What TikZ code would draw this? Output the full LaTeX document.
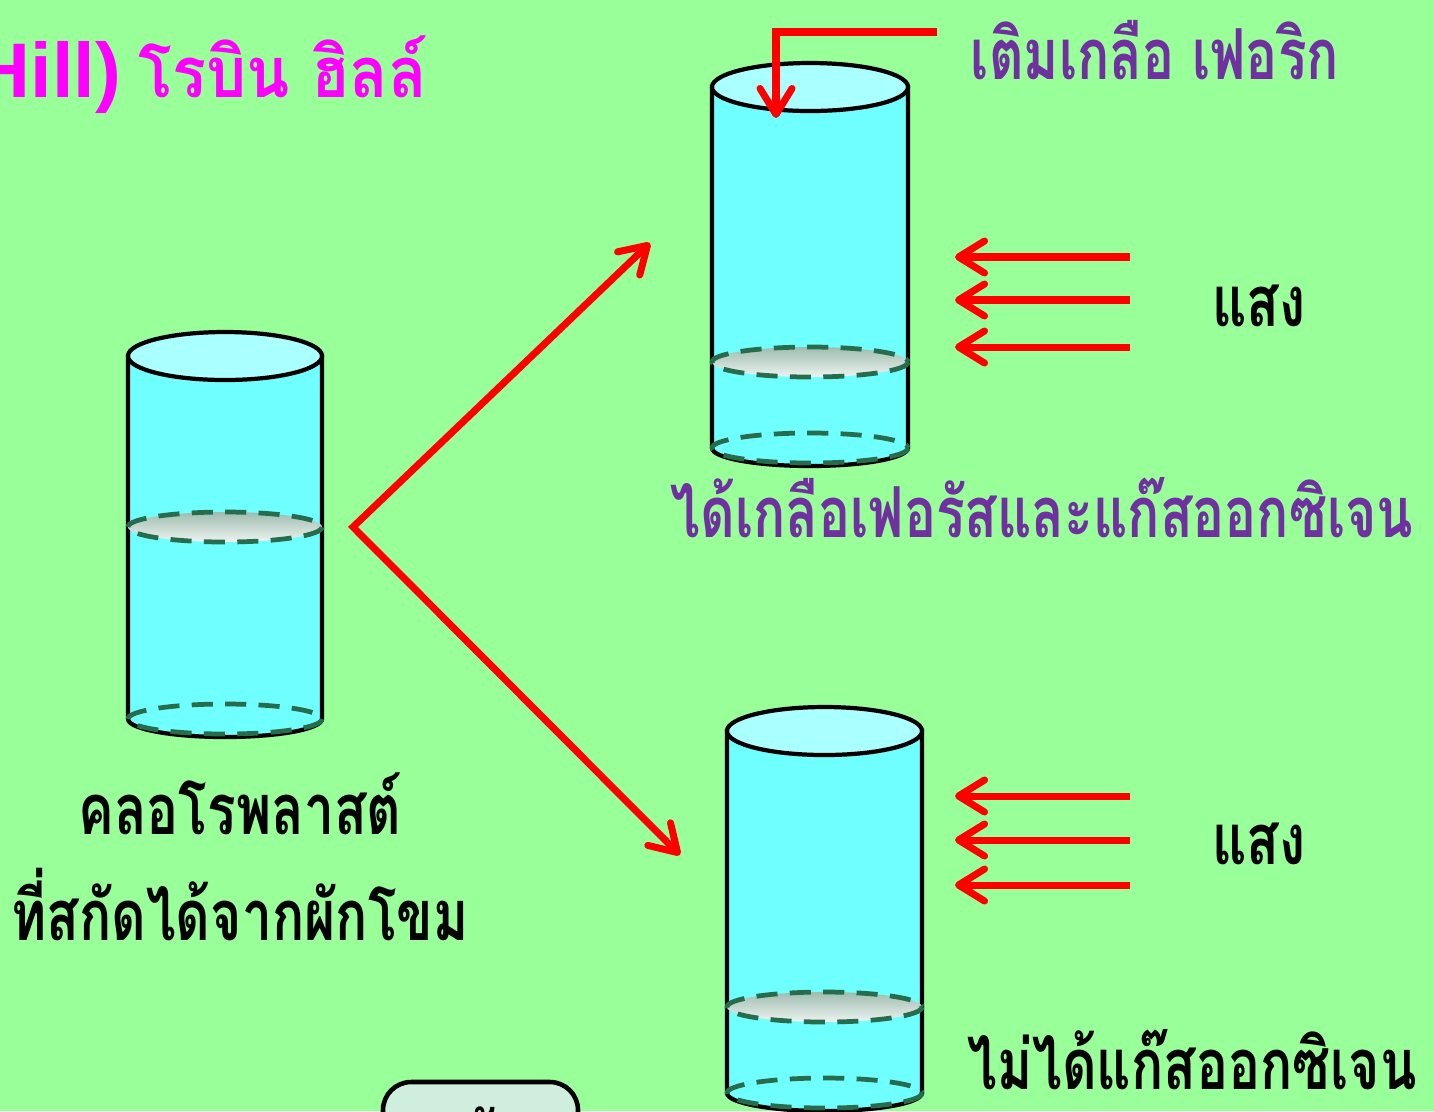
\documentclass[tikz,border=0pt]{standalone}
\usepackage{fontspec}
\newfontfamily\thaifont[Script=Thai,FakeStretch=0.76]{Loma}
\newfontfamily\titlefont[Script=Thai,FakeStretch=0.9]{Loma}
\newfontfamily\latinfont{Liberation Sans}
\usetikzlibrary{positioning,arrows.meta}

\definecolor{slidegreen}{RGB}{153,255,153}
\definecolor{glasscyan}{RGB}{111,255,255}
\definecolor{glasstop}{RGB}{170,255,255}
\definecolor{saltpurple}{RGB}{112,48,160}
\definecolor{titlepink}{RGB}{255,0,255}
\definecolor{levelgreen}{RGB}{40,108,78}
\definecolor{buttonfill}{RGB}{208,238,222}

% glass: left x, right x, top y, liquid y, bottom y
\newcommand{\glass}[5]{%
  \pgfmathsetmacro{\glassrx}{(#2-#1)/2}%
  \pgfmathsetmacro{\glasscx}{(#1+#2)/2}%
  \draw[glassline, fill=glasscyan] (#1,#3) -- (#1,#5)
    arc[start angle=180, end angle=0, x radius=\glassrx, y radius=18] -- (#2,#3) -- cycle;
  \draw[glassline, fill=glasstop] (\glasscx,#3) ellipse [x radius=\glassrx, y radius=24];
  \draw[levelline, top color=levelgreen!45!white, bottom color=levelgreen!8!white]
    (\glasscx,#4) ellipse [x radius=\glassrx, y radius=15];
  \draw[levelline] (\glasscx,#5) ellipse [x radius=\glassrx, y radius=15];
}

\begin{document}
\begin{tikzpicture}[x=0.01cm, y=-0.01cm,
    glassline/.style={draw=black, line width=1.2pt},
    levelline/.style={draw=levelgreen, line width=1.35pt, dash pattern=on 6pt off 3.5pt},
    ray/.style={red, line width=2pt, -{Straight Barb[length=2.6mm, width=3.2mm, round]}},
    thaitext/.style={font=\thaifont\bfseries\fontsize{20}{24}\selectfont, inner sep=0pt},
]
\clip (0,0) rectangle (1434,1111);
\fill[slidegreen] (0,0) rectangle (1434,1111);

% title, cut at the left edge
\node[anchor=east, titlepink, font=\titlefont\bfseries\fontsize{20}{24}\selectfont, inner sep=0pt]
  (title) at (428,75) {{\latinfont\fontsize{22}{24}\selectfont (Robert Hill)}\hspace{0.25em}โรบิน ฮิลล์};

% the three glasses
\glass{128}{322}{356}{527}{719}
\glass{712}{908}{87}{362}{448}
\glass{727}{922}{731}{1007}{1093}

% labels
\node[thaitext] (chloro) at (240,804) {คลอโรพลาสต์};
\node[thaitext] (source) at (240,904) {ที่สกัดได้จากผักโขม};
\node[thaitext, saltpurple] (salt) at (1155,50) {เติมเกลือ เฟอริก};
\node[thaitext] (lightA) at (1259,306) {แสง};
\node[thaitext] (lightB) at (1259,844) {แสง};
\node[thaitext, saltpurple] (withsalt) at (1042,508) {ได้เกลือเฟอรัสและแก๊สออกซิเจน};
\node[thaitext] (nosalt) at (1192,1060) {ไม่ได้แก๊สออกซิเจน};

% split from the chloroplast glass
\coordinate (fork) at (353,527);
\coordinate (toSalt) at (650,243);
\coordinate (toPlain) at (680,855);
\draw[red, line width=2pt, {Straight Barb[length=2.6mm, width=3.2mm, round]}-{Straight Barb[length=2.6mm, width=3.2mm, round]}]
  (toSalt) -- (fork) -- (toPlain);

% ferric salt poured in
\coordinate (saltIn) at (937,32);
\coordinate (saltDrop) at (776,118);
\draw[ray] (saltIn) -| (saltDrop);

% light on both glasses
\foreach \y [count=\i] in {257,300,347} {
  \coordinate (sunA\i) at (1130,\y);
  \coordinate (hitA\i) at (955,\y);
  \draw[ray] (sunA\i) -- (hitA\i);
}
\foreach \y [count=\i] in {796,840,885} {
  \coordinate (sunB\i) at (1130,\y);
  \coordinate (hitB\i) at (955,\y);
  \draw[ray] (sunB\i) -- (hitB\i);
}

% button at the bottom
\draw[black, line width=1.3pt, fill=buttonfill, rounded corners=8pt] (383,1082) rectangle (578,1180);
\node[thaitext] (next) at (480,1135) {ปรับ};
\end{tikzpicture}
\end{document}
